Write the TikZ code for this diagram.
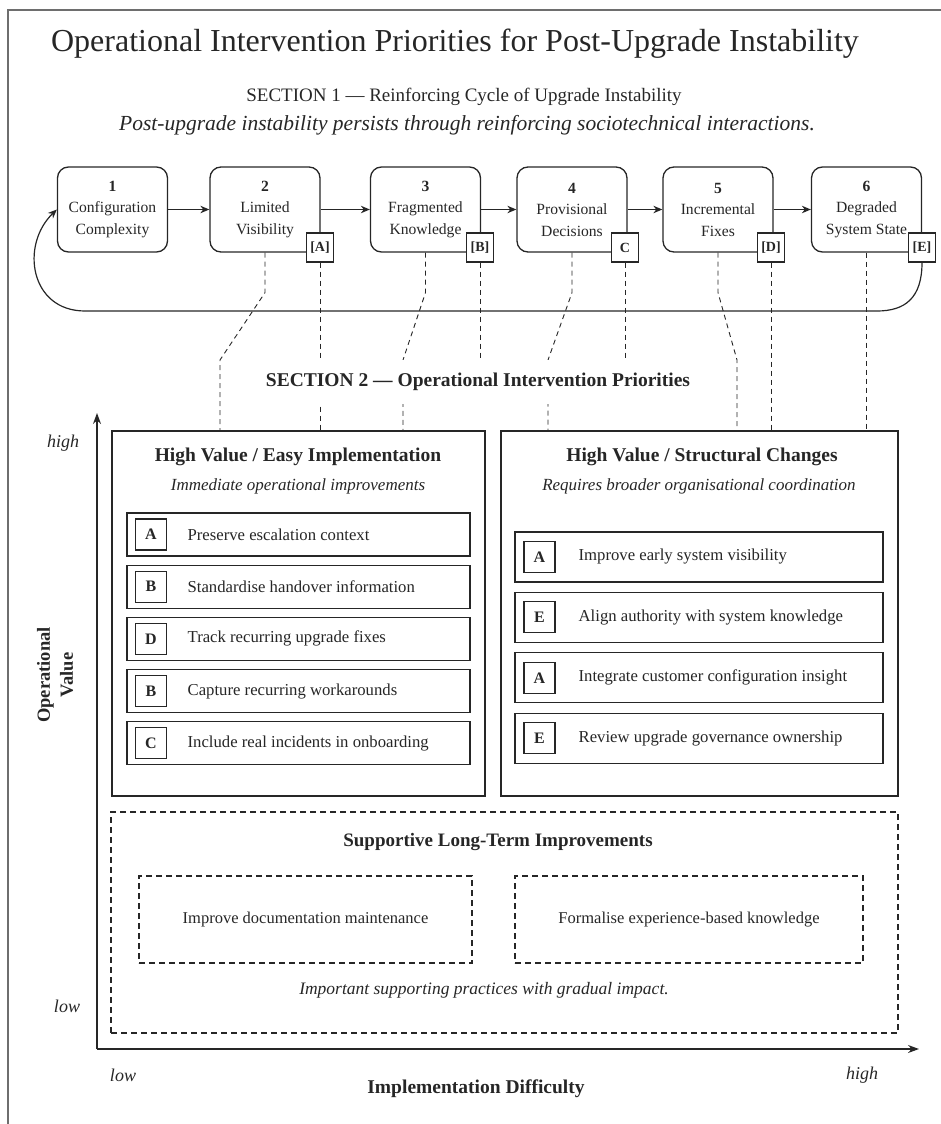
\documentclass[tikz,border=0pt]{standalone}
\usepackage{fontspec}
\setmainfont{Liberation Serif}
\usetikzlibrary{arrows.meta,calc}
\definecolor{ink}{HTML}{262626}
\definecolor{framegray}{HTML}{6E6E6E}
\begin{document}
\begin{tikzpicture}[x=1pt,y=-1pt,
  every node/.style={text=ink},
  line/.style={draw=ink,line width=1.3pt},
  cyc/.style={line,rounded corners=11pt,minimum width=110pt,minimum height=85pt,align=center,inner sep=0pt,font=\fontsize{15.6}{21.5}\selectfont},
  badge/.style={line,fill=white,minimum width=27pt,minimum height=29pt,inner sep=0pt,font=\fontsize{14}{14}\selectfont\bfseries},
  flow/.style={draw=ink,line width=1.2pt,-{Stealth[length=9pt,width=7.5pt]}},
  axis/.style={draw=ink,line width=1.3pt,-{Stealth[length=11pt,width=8pt]}},
  link/.style={draw=ink,line width=0.9pt,dash pattern=on 5pt off 4pt},
  quad/.style={line,inner sep=0pt},
  item/.style={draw=ink,line width=1.1pt,inner sep=0pt},
  key/.style={draw=ink,line width=1.1pt,inner sep=0pt,minimum width=31pt,minimum height=31pt,font=\fontsize{16}{16}\selectfont\bfseries},
  itemtext/.style={anchor=west,inner sep=0pt,font=\fontsize{16.7}{20}\selectfont},
  dbox/.style={draw=ink,line width=1.1pt,dash pattern=on 6pt off 4pt,inner sep=0pt},
  heading/.style={inner sep=0pt,font=\fontsize{19.5}{23}\selectfont\bfseries},
  subhead/.style={inner sep=0pt,font=\fontsize{17}{20}\selectfont\itshape},
  tick/.style={inner sep=0pt,font=\fontsize{18}{21}\selectfont\itshape},
]
\useasboundingbox (0,0) rectangle (940,1124);

% outer frame
\draw[framegray,line width=1.2pt] (8,1140) -- (8,10) -- (950,10);

% titles
\node[inner sep=0pt,font=\fontsize{32}{36}\selectfont] (title) at (455,44) {Operational Intervention Priorities for Post-Upgrade Instability};
\node[inner sep=0pt,font=\fontsize{19}{22}\selectfont] (s1) at (464,97) {SECTION 1 --- Reinforcing Cycle of Upgrade Instability};
\node[subhead,font=\fontsize{21.5}{24}\selectfont\itshape] (s1sub) at (467,125) {Post-upgrade instability persists through reinforcing sociotechnical interactions.};

% cycle
\node[cyc] (n1) at (112.5,209.5) {\textbf{1}\\Configuration\\Complexity};
\node[cyc] (n2) at (265,209.5) {\textbf{2}\\Limited\\Visibility};
\node[cyc] (n3) at (425.5,209.5) {\textbf{3}\\Fragmented\\Knowledge};
\node[cyc] (n4) at (572,209.5) {\textbf{4}\\Provisional\\Decisions};
\node[cyc] (n5) at (718,209.5) {\textbf{5}\\Incremental\\Fixes};
\node[cyc] (n6) at (866.5,209.5) {\textbf{6}\\Degraded\\System State};

\node[badge] (bA) at (320,247.5) {[A]};
\node[badge] (bB) at (480,247.5) {[B]};
\node[badge] (bC) at (625,247.5) {C};
\node[badge] (bD) at (771,247.5) {[D]};
\node[badge] (bE) at (922,247.5) {[E]};

\draw[flow] (n1) -- (n2);
\draw[flow] (n2) -- (n3);
\draw[flow] (n3) -- (n4);
\draw[flow] (n4) -- (n5);
\draw[flow] (n5) -- (n6);

% feedback loop
\draw[flow] (bE.south) .. controls (922,298) and (905,311) .. (877,311) -- (85,311)
  .. controls (30,311) and (20,245) .. (n1.west);

% quadrants
\node[quad,minimum width=373pt,minimum height=365pt] (qL) at (298.5,613.5) {};
\node[quad,minimum width=397pt,minimum height=365pt] (qR) at (699.5,613.5) {};

% connections from the cycle to the priorities
\coordinate (tL1) at (220,431);
\coordinate (tL2) at (320,431);
\coordinate (tL3) at (403,431);
\coordinate (eB) at (480,360);
\coordinate (tR1) at (548,431);
\coordinate (eC) at (625,360);
\coordinate (tR2) at (737,431);
\coordinate (tR3) at (771,431);
\coordinate (tR4) at (866.5,431);
\draw[link] (n2.south) -- ++(0,40) -- (220,360) -- (tL1);
\draw[link] (bA.south) -- (tL2);
\draw[link] (n3.south) -- ++(0,40) -- (403,360) -- (tL3);
\draw[link] (bB.south) -- (eB);
\draw[link] (n4.south) -- ++(0,40) -- (548,360) -- (tR1);
\draw[link] (bC.south) -- (eC);
\draw[link] (n5.south) -- ++(0,40) -- (737,360) -- (tR2);
\draw[link] (bD.south) -- (tR3);
\draw[link] (n6.south) -- (tR4);

\node[heading,fill=white,inner xsep=5pt,minimum height=44pt] (s2) at (478,382) {SECTION 2 --- Operational Intervention Priorities};

% left quadrant
\node[heading] (qLt) at (298,457) {High Value / Easy Implementation};
\node[subhead] (qLs) at (298,486) {Immediate operational improvements};
\foreach \k/\t [count=\i] in {A/Preserve escalation context,B/Standardise handover information,D/Track recurring upgrade fixes,B/Capture recurring workarounds,C/Include real incidents in onboarding}{
  \node[item,minimum width=343pt,minimum height=43pt] (L\i) at (298.5,{534.5+52.2*(\i-1)}) {};
  \node[key] (L\i-k) at ($(L\i.west)+(24.5,0)$) {\k};
  \node[itemtext] (L\i-t) at ($(L\i.west)+(61,0)$) {\t};
}

% right quadrant
\node[heading] (qRt) at (702,457) {High Value / Structural Changes};
\node[subhead] (qRs) at (699,486) {Requires broader organisational coordination};
\foreach \k/\t [count=\i] in {A/Improve early system visibility,E/Align authority with system knowledge,A/Integrate customer configuration insight,E/Review upgrade governance ownership}{
  \node[item,minimum width=368pt,minimum height=50pt] (R\i) at (699,{557+60.4*(\i-1)}) {};
  \node[key] (R\i-k) at ($(R\i.west)+(25,0)$) {\k};
  \node[itemtext] (R\i-t) at ($(R\i.west)+(64,0)$) {\t};
}

% supportive improvements
\node[dbox,minimum width=787pt,minimum height=221pt] (sup) at (504.5,922.5) {};
\node[heading,font=\fontsize{19}{22}\selectfont\bfseries] (supt) at (498,842) {Supportive Long-Term Improvements};
\node[dbox,minimum width=333pt,minimum height=87pt,font=\fontsize{16.5}{19}\selectfont] (sup1) at (305.5,919.5) {Improve documentation maintenance};
\node[dbox,minimum width=348pt,minimum height=87pt,font=\fontsize{16.5}{19}\selectfont] (sup2) at (689,919.5) {Formalise experience-based knowledge};
\node[subhead,font=\fontsize{17.5}{21}\selectfont\itshape] (supn) at (484,990) {Important supporting practices with gradual impact.};

% axes
\coordinate (O) at (97,1049);
\coordinate (ytip) at (97,413);
\coordinate (xtip) at (919,1049);
\draw[axis] (O) -- (ytip);
\draw[axis] (O) -- (xtip);
\node[tick] (yhi) at (63,443) {high};
\node[tick] (ylo) at (67,1006) {low};
\node[tick] (xlo) at (123,1075) {low};
\node[tick] (xhi) at (862,1075) {high};
\node[inner sep=0pt,align=center,rotate=90,font=\fontsize{18.5}{23}\selectfont\bfseries] (ylab) at (55,675) {Operational\\Value};
\node[inner sep=0pt,font=\fontsize{19.5}{23}\selectfont\bfseries] (xlab) at (476,1089) {Implementation Difficulty};
\end{tikzpicture}
\end{document}
